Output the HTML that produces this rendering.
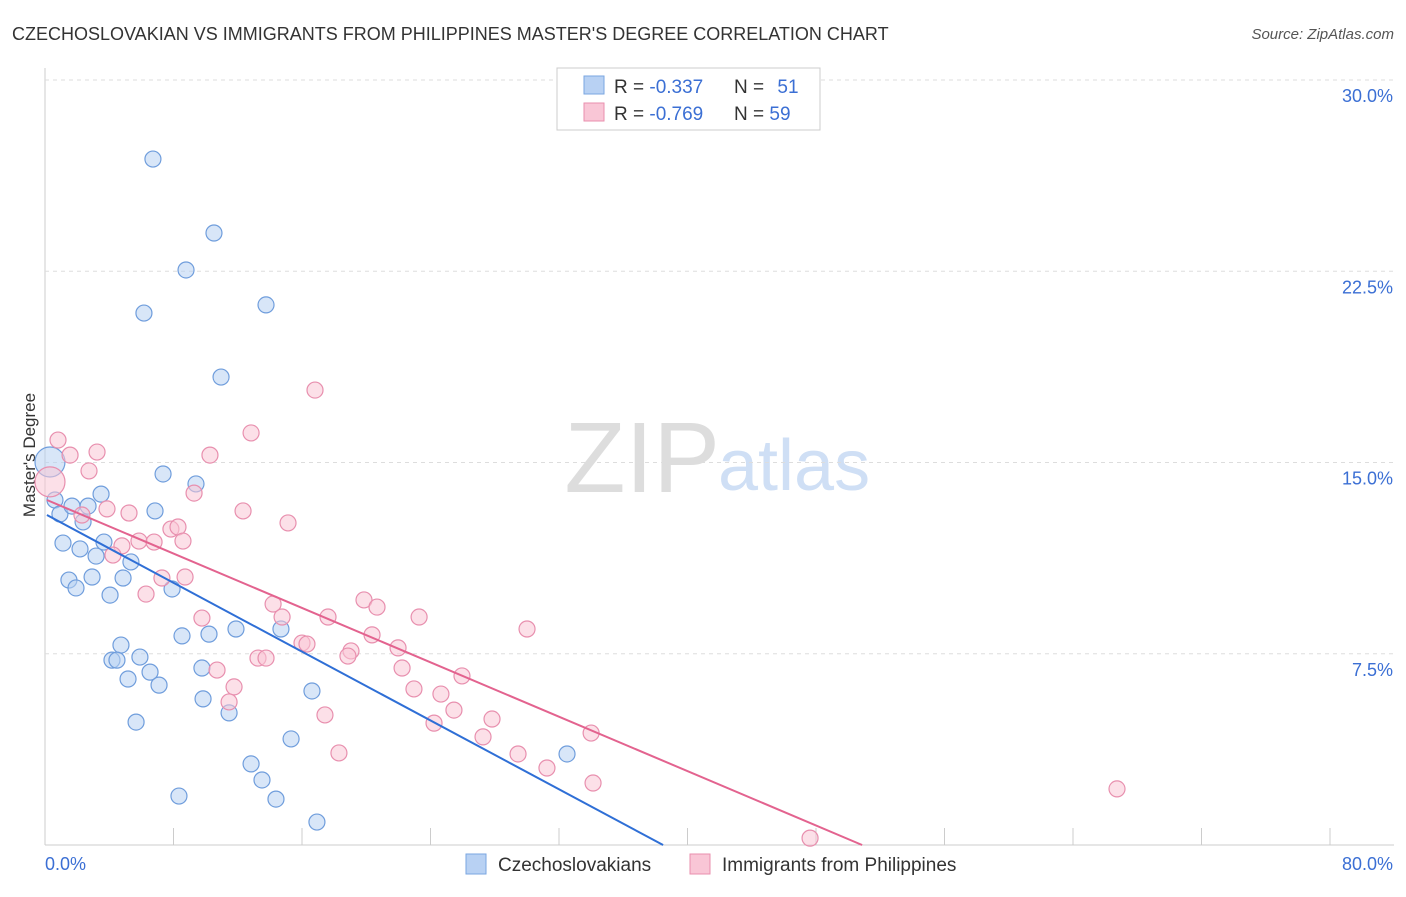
<!DOCTYPE html>
<html><head><meta charset="utf-8"><style>
body{margin:0;background:#fff;font-family:"Liberation Sans",sans-serif;}
svg text{font-family:"Liberation Sans",sans-serif;}
</style></head><body>
<svg id="c" width="1406" height="892">
<text x="12" y="40" font-size="18" fill="#333">CZECHOSLOVAKIAN VS IMMIGRANTS FROM PHILIPPINES MASTER'S DEGREE CORRELATION CHART</text>
<text x="1394" y="39" font-size="15" fill="#555" text-anchor="end" font-style="italic">Source: ZipAtlas.com</text>
<text x="35" y="455" font-size="17" fill="#333" text-anchor="middle" transform="rotate(-90 35 455)">Master's Degree</text>
<text x="720" y="492" font-size="100" fill="#ddd" text-anchor="end" font-family="Liberation Serif">ZIP</text>
<text x="718" y="490" font-size="72" fill="#cfdff5">atlas</text>
<g id="grid"></g><g id="blue"></g><g id="pink"></g><g id="lines"></g>
<g>
<rect x="557" y="68" width="263" height="62" fill="#fff" stroke="#ccc"/>
<rect x="584" y="76" width="20" height="18" fill="#b8d1f3" stroke="#7aa6e0"/>
<rect x="584" y="103" width="20" height="18" fill="#f9c6d6" stroke="#e98fae"/>
<text x="614" y="93" font-size="19" fill="#333">R = <tspan fill="#3b6fd4">-0.337</tspan></text>
<text x="734" y="93" font-size="19" fill="#333">N = <tspan fill="#3b6fd4" dx="8">51</tspan></text>
<text x="614" y="120" font-size="19" fill="#333">R = <tspan fill="#3b6fd4">-0.769</tspan></text>
<text x="734" y="120" font-size="19" fill="#333">N = <tspan fill="#3b6fd4">59</tspan></text>
</g>
<g>
<rect x="466" y="854" width="20" height="20" fill="#b8d1f3" stroke="#7aa6e0"/>
<text x="498" y="871" font-size="19" fill="#333">Czechoslovakians</text>
<rect x="690" y="854" width="20" height="20" fill="#f9c6d6" stroke="#e98fae"/>
<text x="722" y="871" font-size="19" fill="#333">Immigrants from Philippines</text>
</g>
</svg>
<script>
const xTicksLabels=["0.0%","80.0%"];
const yTickValues=[7.5,15,22.5,30];
const blueX=[6.72,10.52,8.78,6.16,13.76,10.96,7.35,9.40,0.31,0.62,0.93,1.68,2.68,3.49,2.37,6.85,1.12,2.18,3.67,3.18,5.35,1.49,1.93,2.93,4.86,4.05,7.91,8.53,10.21,11.89,14.69,4.73,4.17,4.48,5.91,6.54,5.17,7.10,9.77,9.84,11.46,5.67,16.62,15.32,12.83,13.51,8.34,14.38,16.93,32.5];
const blueY=[26.9,24.0,22.55,20.86,21.18,18.35,14.55,14.16,15.02,13.53,12.98,13.29,13.29,13.76,12.67,13.10,11.84,11.61,11.88,11.33,11.10,10.39,10.08,10.51,10.47,9.80,10.04,8.20,8.27,8.47,8.47,7.84,7.25,7.25,7.37,6.78,6.51,6.27,6.94,5.73,5.18,4.82,6.04,4.16,3.18,2.55,1.92,1.80,0.90,3.57];
const pinkX=[0.31,0.81,1.56,3.24,2.74,10.27,12.83,16.81,9.28,2.30,3.86,5.23,12.33,15.13,7.84,8.28,4.79,5.85,6.79,8.59,4.23,7.28,8.72,6.29,9.77,14.20,14.76,17.62,19.86,20.67,23.29,30.01,20.36,21.98,19.05,18.86,16.00,16.31,13.26,13.76,10.71,22.23,25.96,11.77,22.97,24.65,25.46,17.43,27.83,24.22,27.27,18.30,29.45,31.25,34.0,34.12,66.74,47.63,11.46];
const pinkY=[14.24,15.88,15.29,15.41,14.67,15.29,16.16,17.84,13.80,12.94,13.18,13.02,13.10,12.63,12.39,12.47,11.73,11.92,11.88,11.92,11.37,10.47,10.51,9.84,8.90,9.45,8.94,8.94,9.61,9.33,8.94,8.47,8.24,7.73,7.61,7.41,7.92,7.88,7.33,7.33,6.86,6.94,6.63,6.20,6.12,5.92,5.29,5.10,4.94,4.78,4.24,3.61,3.57,3.02,4.39,2.43,2.20,0.27,5.61];
const blueLine=[[0.12,12.94],[38.48,0]];
const pinkLine=[[0.12,13.53],[50.87,0]];
const NS="http://www.w3.org/2000/svg";
const X=v=>45+v*1285/80, Y=v=>845-v*25.5;
function mk(t,a,p){const e=document.createElementNS(NS,t);for(const k in a)e.setAttribute(k,a[k]);p.appendChild(e);return e;}
const g=document.getElementById('grid');
let ax=mk('line',{x1:45,y1:68,x2:45,y2:845,stroke:'#ccc'},g);


let bx=mk('line',{x1:45,y1:845,x2:1394,y2:845,stroke:'#ccc'},g);


for(let i=0;i<=10;i++){let t=mk('line',{x1:X(i*8),y1:828,x2:X(i*8),y2:845,stroke:'#ccc'},g);

}
yTickValues.forEach(v=>{let l=mk('line',{x1:45,y1:Y(v),x2:1394,y2:Y(v),stroke:'#ddd','stroke-dasharray':'4,4'},g);


let t=mk('text',{x:1393,y:Y(v)+22,'font-size':18,fill:'#3b6fd4','text-anchor':'end'},g);t.textContent=v.toFixed(1)+'%';

});
let t0=mk('text',{x:45,y:870,'font-size':18,fill:'#3b6fd4'},g);t0.textContent=xTicksLabels[0];


let t1=mk('text',{x:1393,y:870,'font-size':18,fill:'#3b6fd4','text-anchor':'end'},g);t1.textContent=xTicksLabels[1];


function pts(xs,ys,id,fill,stroke){const p=document.getElementById(id);xs.forEach((x,i)=>{const r=i===(id==='blue'?8:0)?15:8;
let c=mk('circle',{cx:X(x),cy:Y(ys[i]),r:r,fill:fill,'fill-opacity':0.55,stroke:stroke,'stroke-width':1.2},p);

});}
pts(blueX,blueY,'blue','#b8d1f3','#6f9ddc');
pts(pinkX,pinkY,'pink','#f9c6d6','#e88fae');
const L=document.getElementById('lines');
let lb=mk('line',{x1:X(blueLine[0][0]),y1:Y(blueLine[0][1]),x2:X(blueLine[1][0]),y2:Y(blueLine[1][1]),stroke:'#2f6fd6','stroke-width':2},L);


let lp=mk('line',{x1:X(pinkLine[0][0]),y1:Y(pinkLine[0][1]),x2:X(pinkLine[1][0]),y2:Y(pinkLine[1][1]),stroke:'#e3638f','stroke-width':2},L);


</script>
</body></html>
